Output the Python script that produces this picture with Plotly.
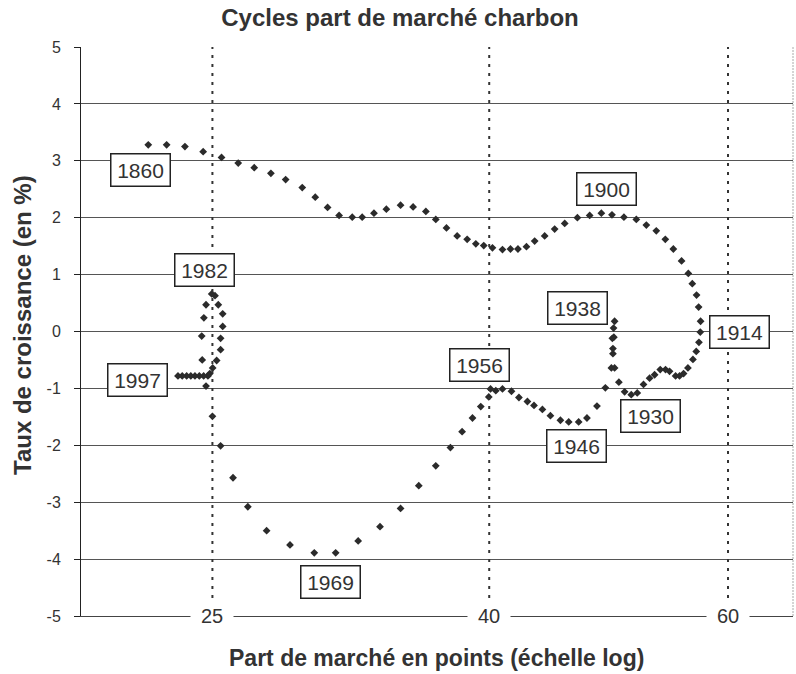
import math
import plotly.graph_objects as go

# Part de marché (points, échelle log) et taux de croissance (%)
share = [22.42, 23.13, 23.86, 24.61, 25.39, 26.12, 26.84, 27.61, 28.31, 29.12,
         29.77, 30.40, 31.00, 31.70, 32.24, 32.89, 33.59, 34.41, 35.15, 35.92,
         36.53, 37.20, 37.88, 38.53, 39.10, 39.63, 40.22, 40.91, 41.47, 42.00,
         42.61, 43.21, 43.95, 44.70, 45.47, 46.46, 47.44, 48.39, 49.27, 50.28,
         51.35, 52.23, 53.12, 53.94, 54.68, 55.45, 56.09, 56.47, 56.88, 57.08,
         57.27, 57.24, 57.11, 56.85, 56.53, 56.05, 55.64, 55.26, 54.89, 54.33,
         53.96, 53.48, 52.97, 52.52, 51.98, 51.43, 50.91, 50.34, 49.85, 49.49,
         49.35, 49.43, 49.40, 49.49, 49.30, 49.35, 49.22, 48.72, 48.03, 47.22,
         46.56, 45.78, 45.14, 44.38, 43.78, 43.16, 42.68, 42.07, 41.54, 40.91,
         40.45, 40.09, 39.97, 39.43, 38.88, 38.20, 37.45, 36.53, 35.49, 34.41,
         33.23, 32.02, 30.82, 29.72, 28.52, 27.41, 26.55, 25.89, 25.35, 25.00,
         24.73, 24.89, 25.01, 25.18, 25.35, 25.35, 25.44, 25.44, 25.25, 25.11,
         24.97, 24.73, 24.64, 24.55, 24.57, 24.81, 24.63, 24.45, 24.27, 24.10,
         23.93, 23.75, 23.58]
growth = [3.28, 3.28, 3.25, 3.16, 3.06, 2.96, 2.88, 2.78, 2.67, 2.53,
          2.36, 2.18, 2.04, 2.01, 2.01, 2.08, 2.15, 2.22, 2.19, 2.11,
          1.97, 1.82, 1.68, 1.62, 1.54, 1.51, 1.47, 1.44, 1.45, 1.45,
          1.49, 1.59, 1.68, 1.80, 1.90, 2.00, 2.04, 2.08, 2.05, 2.01,
          1.97, 1.87, 1.77, 1.62, 1.45, 1.24, 1.02, 0.84, 0.64, 0.43,
          0.18, -0.01, -0.19, -0.35, -0.49, -0.64, -0.74, -0.78, -0.78, -0.70,
          -0.67, -0.67, -0.76, -0.82, -0.93, -1.08, -1.11, -1.06, -0.89, -0.64,
          -0.39, -0.10, 0.06, 0.18, -0.12, -0.30, -0.64, -0.99, -1.31, -1.52,
          -1.59, -1.59, -1.56, -1.48, -1.37, -1.30, -1.23, -1.16, -1.05, -1.01,
          -1.04, -1.01, -1.15, -1.32, -1.52, -1.76, -2.04, -2.36, -2.71, -3.11,
          -3.43, -3.68, -3.89, -3.89, -3.75, -3.50, -3.08, -2.57, -2.01, -1.49,
          -0.96, -0.74, -0.64, -0.51, -0.32, -0.12, 0.09, 0.31, 0.47, 0.63,
          0.66, 0.47, 0.24, -0.08, -0.50, -0.78, -0.78, -0.78, -0.78, -0.78,
          -0.78, -0.78, -0.78]

# Year labels (text and anchor in data coordinates)
label_years = ["1860", "1982", "1997", "1900", "1938", "1914", "1956", "1946", "1930", "1969"]
label_share = [22.12, 24.67, 22.03, 48.85, 46.43, 61.13, 39.35, 46.36, 52.64, 30.55]
label_growth = [2.84, 1.08, -0.86, 2.50, 0.42, -0.01, -0.58, -2.01, -1.49, -4.41]

x_ticks = [25, 40, 60]
y_ticks = [-5, -4, -3, -2, -1, 0, 1, 2, 3, 4, 5]
x_min, x_max = 20, 67
y_min, y_max = -5, 5

FONT = "Liberation Sans, Arial, sans-serif"

fig = go.Figure()
fig.add_trace(go.Scatter(
    x=share, y=growth, mode="markers",
    marker=dict(symbol="diamond", size=6, color="#2b2b2b", line=dict(width=0)),
    hoverinfo="x+y", showlegend=False,
))

shapes = []
for v in x_ticks:
    shapes.append(dict(type="line", xref="x", yref="y", x0=v, x1=v, y0=y_min, y1=y_max,
                       line=dict(color="#333333", width=2, dash="3px,6px"), layer="above"))
# right border
shapes.append(dict(type="line", xref="x domain", yref="y domain", x0=1, x1=1, y0=0, y1=1,
                   line=dict(color="#aaaaaa", width=1, dash="2px,1px"), layer="above"))

annotations = []
for t, xv, yv in zip(label_years, label_share, label_growth):
    annotations.append(dict(
        x=math.log10(xv), y=yv, xref="x", yref="y", text=t, showarrow=False,
        font=dict(family=FONT, size=21, color="#333333"),
        bgcolor="white", bordercolor="#222222", borderwidth=1.5, borderpad=1,
        width=56, height=29, xanchor="center", yanchor="middle",
    ))
for v in x_ticks:
    annotations.append(dict(
        x=math.log10(v), y=y_min, xref="x", yref="y", text=str(v), showarrow=False,
        font=dict(family=FONT, size=20, color="#333333"),
        bgcolor="white", borderpad=0, width=42, height=30,
        xanchor="center", yanchor="middle",
    ))

W, H = 796, 674
L, R, T, B = 81, 3, 47, 58
pw, ph = W - L - R, H - T - B

def px_to_paper(px, py):
    return (px - L) / pw, (H - B - py) / ph

ax, ay = px_to_paper(436, 658)
annotations.append(dict(
    x=ax, y=ay, xref="paper", yref="paper", xanchor="center", yanchor="middle",
    text="<b>Part de marché en points (échelle log)</b>",
    showarrow=False, font=dict(family=FONT, size=23, color="#333333"),
))
ax, ay = px_to_paper(22, 325)
annotations.append(dict(
    x=ax, y=ay, xref="paper", yref="paper", xanchor="center", yanchor="middle",
    text="<b>Taux de croissance (en %)</b>",
    showarrow=False, textangle=-90, font=dict(family=FONT, size=24, color="#333333"),
))

fig.update_layout(
    width=W, height=H,
    margin=dict(l=L, r=R, t=T, b=B),
    paper_bgcolor="white", plot_bgcolor="white",
    title=dict(text="<b>Cycles part de marché charbon</b>", x=400 / W, xanchor="center",
               y=1 - 18 / H, yanchor="middle", yref="container",
               font=dict(family=FONT, size=24, color="#333333")),
    xaxis=dict(type="log", range=[math.log10(x_min), math.log10(x_max)],
               showgrid=False, zeroline=False, showticklabels=False, ticks="",
               showline=True, linecolor="#444444", linewidth=1),
    yaxis=dict(range=[y_min, y_max], tickvals=y_ticks, ticktext=[str(v) for v in y_ticks],
               showgrid=True, gridcolor="#555555", gridwidth=1, zeroline=False,
               showline=True, linecolor="#222222", linewidth=1,
               ticks="outside", ticklen=6, tickcolor="#222222", ticklabelstandoff=10,
               tickfont=dict(family=FONT, size=16, color="#333333")),
    shapes=shapes, annotations=annotations,
    font=dict(family=FONT),
)

fig.write_html("out.html", config={"displayModeBar": False},
               post_script="document.body.style.margin='0';document.body.style.padding='0';")
